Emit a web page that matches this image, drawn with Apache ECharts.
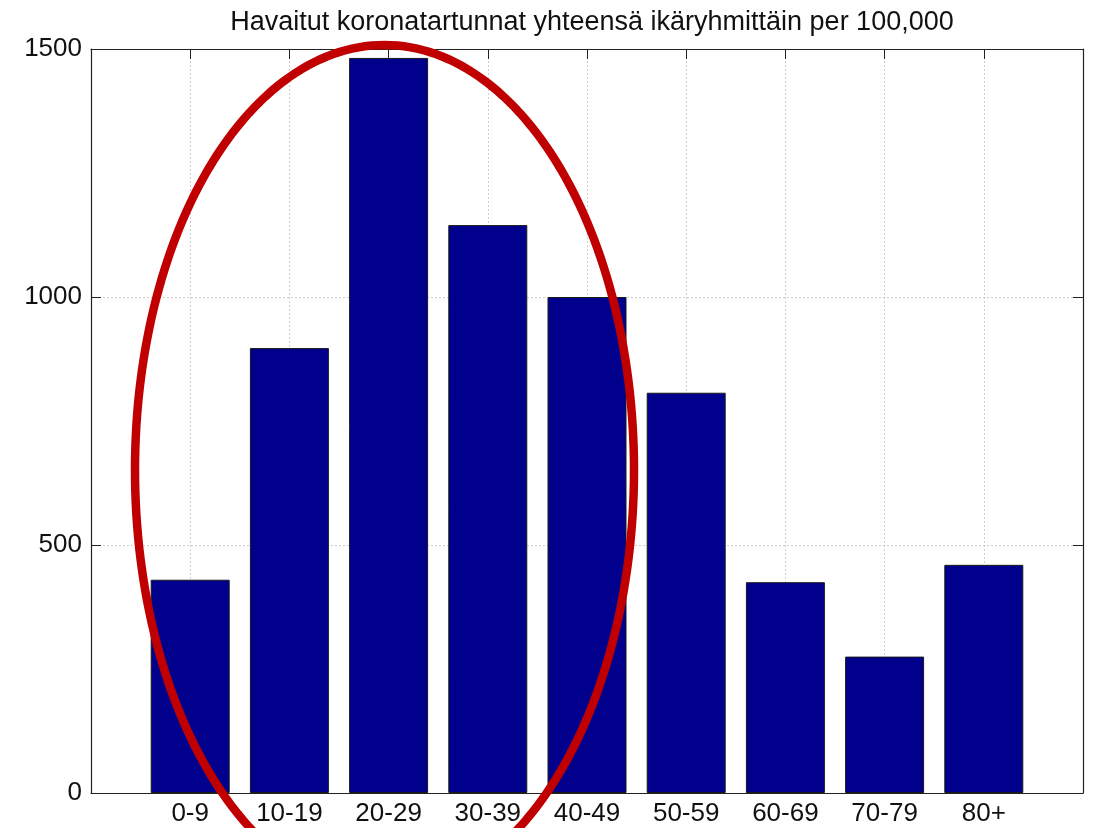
<!DOCTYPE html>
<html>
<head>
    <meta charset="utf-8">
    <title>Havaitut koronatartunnat</title>
    <script src="https://cdn.jsdelivr.net/npm/echarts@6/dist/echarts.min.js"></script>
    <style>
        html, body { margin: 0; padding: 0; background: #fff; }
        #chart { width: 1099px; height: 828px; }
    </style>
</head>
<body>
<div id="chart"></div>
<script type="text/javascript">
    // data
    var ageGroups = ['0-9', '10-19', '20-29', '30-39', '40-49', '50-59', '60-69', '70-79', '80+'];
    var casesPer100k = [430, 897, 1482, 1145, 1000, 807, 425, 275, 460];
    var yTicks = [0, 500, 1000, 1500];

    var FONT = 'Liberation Sans, Arial, Helvetica, sans-serif';
    var myChart = echarts.init(document.getElementById('chart'));

    // bar i sits at x = i + 1 on a 0..10 axis (like matlab)
    var barData = casesPer100k.map(function (v, i) { return [i + 1, v]; });

    // red hand-drawn-ish ellipse annotation around the first groups
    var ellipsePts = [];
    for (var k = 0; k < 240; k++) {
        var t = k / 240 * Math.PI * 2;
        ellipsePts.push([384.5 + 249.5 * Math.cos(t), 470 + 425 * Math.sin(t)]);
    }

    var gridLine = { show: true, lineStyle: { color: '#cfcfcf', type: [2, 2], width: 1 } };
    var tick = { show: true, inside: true, length: 10, lineStyle: { color: '#222', width: 1 } };
    var axisLine = { show: true, onZero: false, lineStyle: { color: '#222', width: 1.2 } };

    myChart.setOption({
        animation: false,
        title: {
            text: 'Havaitut koronatartunnat yhteensä ikäryhmittäin per 100,000',
            left: 587,
            textAlign: 'center',
            top: 4,
            textStyle: { fontFamily: FONT, fontSize: 27, fontWeight: 'normal', color: '#111' }
        },
        grid: { left: 91, right: 16, top: 49, bottom: 35 },
        xAxis: [
            {
                type: 'value', min: 0, max: 10, interval: 1, position: 'bottom',
                axisLine: axisLine, axisTick: tick, splitLine: gridLine,
                axisLabel: {
                    fontFamily: FONT, fontSize: 26, color: '#111', margin: 8,
                    formatter: function (v) { return ageGroups[v - 1] || ''; }
                }
            },
            {
                type: 'value', min: 0, max: 10, interval: 1, position: 'top',
                axisLine: axisLine, axisTick: tick, splitLine: { show: false },
                axisLabel: { show: false }
            }
        ],
        yAxis: [
            {
                type: 'value', min: yTicks[0], max: yTicks[yTicks.length - 1], interval: 500, position: 'left',
                axisLine: axisLine, axisTick: tick, splitLine: gridLine,
                axisLabel: {
                    fontFamily: FONT, fontSize: 26, color: '#111', margin: 9,
                    formatter: function (v) { return String(v); }
                }
            },
            {
                type: 'value', min: yTicks[0], max: yTicks[yTicks.length - 1], interval: 500, position: 'right',
                axisLine: axisLine, axisTick: tick, splitLine: { show: false },
                axisLabel: { show: false }
            }
        ],
        series: [
            {
                type: 'bar',
                xAxisIndex: 0,
                yAxisIndex: 0,
                barWidth: 79,
                data: barData,
                itemStyle: { color: '#00008c', borderColor: '#1a1a1a', borderWidth: 1 }
            }
        ],
        graphic: [
            {
                type: 'polygon',
                z: 100,
                silent: true,
                shape: { points: ellipsePts },
                style: { fill: 'none', stroke: '#c00000', lineWidth: 8.5 }
            }
        ]
    });
</script>
</body>
</html>
